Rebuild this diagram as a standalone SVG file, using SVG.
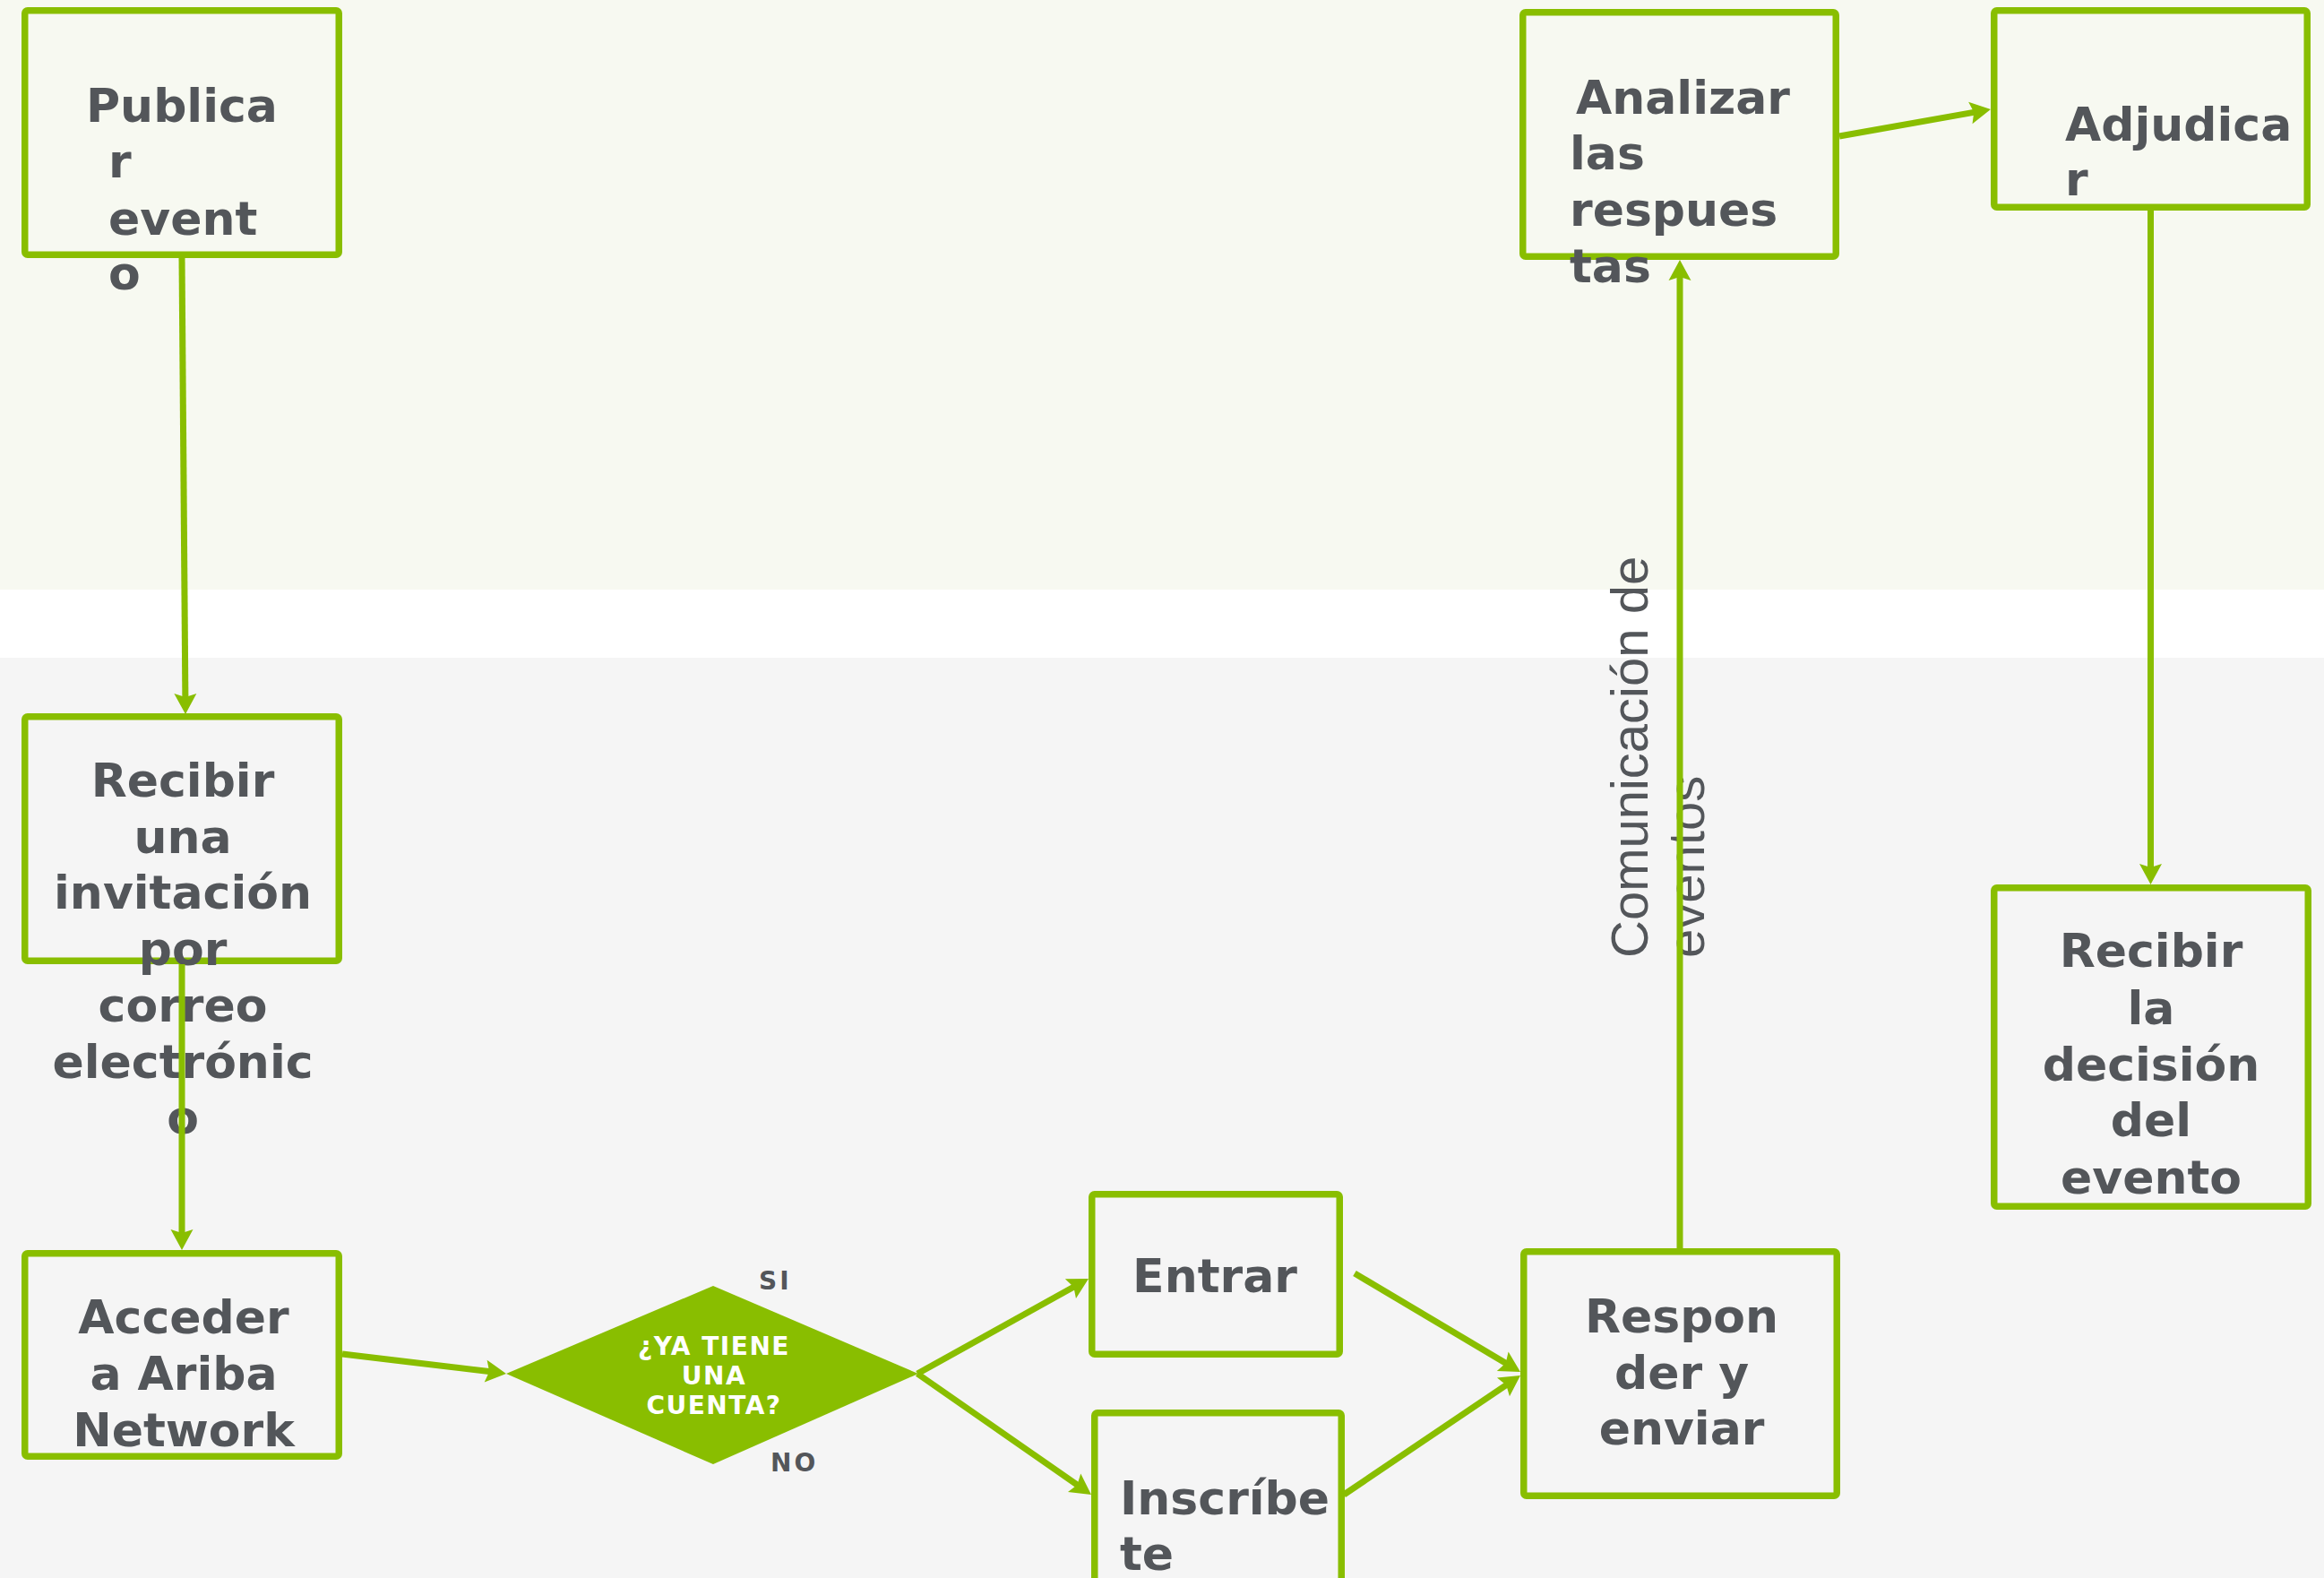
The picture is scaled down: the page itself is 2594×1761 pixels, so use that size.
<svg xmlns="http://www.w3.org/2000/svg" width="2594" height="1761" viewBox="0 0 2594 1761">
<style>
.box{fill:none;stroke:#89be00;stroke-width:7.5;stroke-linejoin:round}
.lbl{font-family:"DejaVu Sans",Verdana,sans-serif;font-weight:bold;font-size:52px;fill:#53565a}
.mid{text-anchor:middle}
.dtx{font-family:"DejaVu Sans",Verdana,sans-serif;font-weight:bold;font-size:28px;fill:#ffffff;text-anchor:middle;letter-spacing:1.5px}
.yn{font-family:"DejaVu Sans",Verdana,sans-serif;font-weight:bold;font-size:28px;fill:#53565a;letter-spacing:3px}
.lane{font-family:"Liberation Sans",Arial,sans-serif;font-size:58px;fill:#53565a}
.con{fill:none;stroke:#89be00;stroke-width:7;marker-end:url(#ah)}
</style>
<defs>
<marker id="ah" markerUnits="userSpaceOnUse" viewBox="-10 -14 28 28" refX="0" refY="0" markerWidth="28" markerHeight="28" orient="auto">
<path d="M15,0 L-8,-12.5 L-4,0 L-8,12.5 Z" fill="#89be00"/>
</marker>
</defs>
<g id="background">
<rect x="0" y="0" width="2594" height="658" fill="#f7f9f1"/>
<rect x="0" y="658" width="2594" height="76" fill="#ffffff"/>
<rect x="0" y="734" width="2594" height="1027" fill="#f5f5f5"/>
</g>
<g id="lane-label">
<text class="lane" transform="translate(1839,1069) rotate(-90)"><tspan x="0" y="0">Comunicación de</tspan><tspan x="0" y="63">eventos</tspan></text>
</g>
<g id="node-publicar">
<rect class="box" x="27.75" y="11.75" width="350.5" height="272.5" rx="3"/>
<text class="lbl"><tspan x="96" y="136">Publica</tspan><tspan x="121" y="198">r</tspan><tspan x="121" y="262">event</tspan><tspan x="121" y="323">o</tspan></text>
</g>
<g id="node-recibir-invitacion">
<rect class="box" x="27.75" y="799.75" width="350.5" height="272.5" rx="3"/>
<text class="lbl mid"><tspan x="204" y="889">Recibir</tspan><tspan x="204" y="951.7">una</tspan><tspan x="204" y="1014.4">invitación</tspan><tspan x="204" y="1077">por</tspan><tspan x="204" y="1139.8">correo</tspan><tspan x="204" y="1202.5">electrónic</tspan><tspan x="204" y="1265">o</tspan></text>
</g>
<g id="node-acceder">
<rect class="box" x="27.75" y="1398.75" width="350.5" height="226.5" rx="3"/>
<text class="lbl mid"><tspan x="205" y="1488">Acceder</tspan><tspan x="205" y="1551">a Ariba</tspan><tspan x="205" y="1614">Network</tspan></text>
</g>
<g id="node-decision">
<polygon points="565,1533 796,1435 1025,1533 796,1634" fill="#89be00"/>
<text class="dtx"><tspan x="797" y="1512">¿YA TIENE</tspan><tspan x="797" y="1545">UNA</tspan><tspan x="797" y="1578">CUENTA?</tspan></text>
<text class="yn" x="847" y="1439">SI</text>
<text class="yn" x="860" y="1642">NO</text>
</g>
<g id="node-entrar">
<rect class="box" x="1218.75" y="1332.75" width="276.5" height="178.5" rx="3"/>
<text class="lbl mid" x="1356" y="1442">Entrar</text>
</g>
<g id="node-inscribete">
<rect class="box" x="1221.75" y="1576.75" width="275.5" height="300" rx="3"/>
<text class="lbl"><tspan x="1250" y="1690">Inscríbe</tspan><tspan x="1250" y="1752">te</tspan></text>
</g>
<g id="node-responder">
<rect class="box" x="1700.75" y="1396.75" width="349.5" height="272.5" rx="3"/>
<text class="lbl mid"><tspan x="1877" y="1487">Respon</tspan><tspan x="1877" y="1550">der y</tspan><tspan x="1877" y="1612">enviar</tspan></text>
</g>
<g id="node-analizar">
<rect class="box" x="1699.75" y="13.75" width="349.5" height="272.5" rx="3"/>
<text class="lbl"><tspan x="1759" y="127">Analizar</tspan><tspan x="1752" y="189">las</tspan><tspan x="1752" y="252">respues</tspan><tspan x="1752" y="315">tas</tspan></text>
</g>
<g id="node-adjudicar">
<rect class="box" x="2225.75" y="11.75" width="349.5" height="219.5" rx="3"/>
<text class="lbl"><tspan x="2305" y="157">Adjudica</tspan><tspan x="2305" y="218">r</tspan></text>
</g>
<g id="node-recibir-decision">
<rect class="box" x="2225.75" y="990.75" width="350.5" height="355.5" rx="3"/>
<text class="lbl mid"><tspan x="2401" y="1079">Recibir</tspan><tspan x="2401" y="1143">la</tspan><tspan x="2401" y="1206">decisión</tspan><tspan x="2401" y="1268">del</tspan><tspan x="2401" y="1332">evento</tspan></text>
</g>
<g id="connectors">
<line class="con" x1="203" y1="288" x2="206.9" y2="782"/>
<line class="con" x1="203" y1="1076" x2="203" y2="1380"/>
<line class="con" x1="382" y1="1511" x2="550.1" y2="1531.1"/>
<line class="con" x1="1024" y1="1533" x2="1201.9" y2="1434.3"/>
<line class="con" x1="1024" y1="1533" x2="1205.7" y2="1659.4"/>
<line class="con" x1="1512" y1="1421" x2="1684.1" y2="1523.3"/>
<line class="con" x1="1500" y1="1668" x2="1684.6" y2="1543.4"/>
<line class="con" x1="1875" y1="1393" x2="1875" y2="305"/>
<line class="con" x1="2053" y1="152" x2="2207.2" y2="124.6"/>
<line class="con" x1="2400.5" y1="235" x2="2400.5" y2="972"/>
</g>
</svg>
